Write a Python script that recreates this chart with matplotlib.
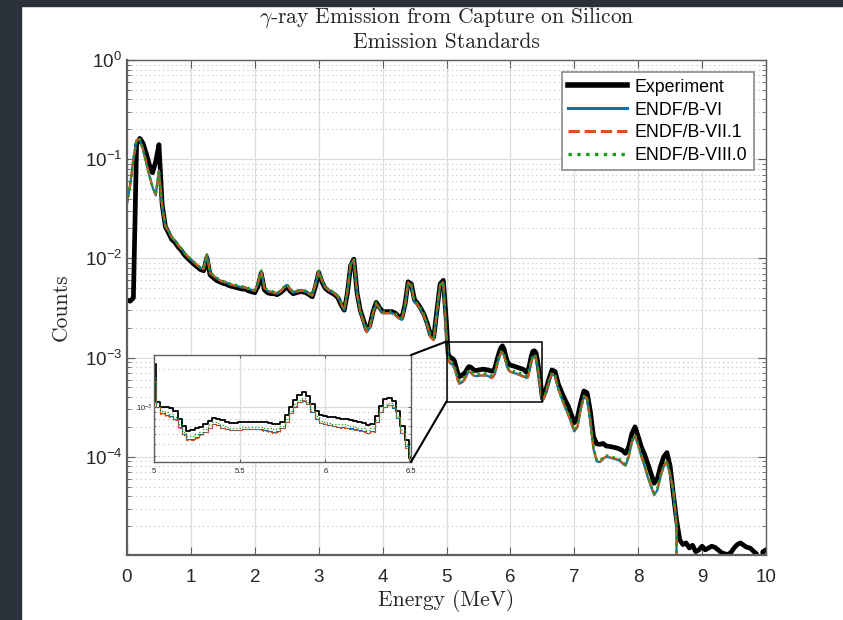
import numpy as np
import matplotlib
matplotlib.use("Agg")
import matplotlib.pyplot as plt
from matplotlib.patches import Rectangle, ConnectionPatch
from matplotlib.ticker import NullFormatter, LogLocator

plt.rcParams['font.family'] = ['Liberation Sans', 'DejaVu Sans']
plt.rcParams['mathtext.fontset'] = 'cm'

# bin centres (MeV): 50 keV bins, 25 keV bins across the 5-6.5 MeV window
energy = np.round(np.concatenate([np.arange(100) * 0.05,
                                  5.0 + np.arange(60) * 0.025,
                                  6.5 + np.arange(71) * 0.05]), 4)

experiment = [
    # 0.00 - 4.95
    3.8e-3, 3.7e-3, 4.0e-3, 0.14, 0.162, 0.145, 0.115, 0.088, 0.073, 0.095,
    0.14, 0.035, 0.021, 0.018, 0.0155, 0.0145, 0.013, 0.012, 0.0108, 0.0100,
    0.0093, 0.0087, 0.0082, 0.0077, 0.0075, 0.0102, 0.0068, 0.0064, 0.0060, 0.0058,
    0.0056, 0.0055, 0.0053, 0.0052, 0.0051, 0.0050, 0.0049, 0.0049, 0.0047, 0.0046,
    0.0045, 0.0052, 0.0071, 0.0048, 0.0045, 0.0044, 0.0044, 0.0043, 0.0045, 0.0048,
    0.0052, 0.0047, 0.0044, 0.0045, 0.0046, 0.0046, 0.0045, 0.0043, 0.0041, 0.0052,
    0.0072, 0.0058, 0.0050, 0.0047, 0.0045, 0.0043, 0.0040, 0.0034, 0.0030, 0.0045,
    0.0085, 0.0098, 0.0045, 0.0030, 0.0024, 0.0019, 0.0021, 0.0029, 0.0036, 0.0032,
    0.0029, 0.0029, 0.0029, 0.0029, 0.0028, 0.0026, 0.0025, 0.0034, 0.0058, 0.0055,
    0.0038, 0.0035, 0.0031, 0.0027, 0.0022, 0.0017, 0.0016, 0.0030, 0.0055, 0.0060,
    # 5.000 - 6.475
    2.2e-3, 1.1e-3, 1.0e-3, 9.9e-4, 9.7e-4, 9.2e-4, 8.0e-4, 7.0e-4, 6.4e-4, 6.5e-4,
    6.7e-4, 6.9e-4, 7.2e-4, 7.7e-4, 8.1e-4, 8.0e-4, 7.8e-4, 7.5e-4, 7.4e-4, 7.4e-4,
    7.5e-4, 7.5e-4, 7.6e-4, 7.6e-4, 7.6e-4, 7.5e-4, 7.5e-4, 7.4e-4, 7.3e-4, 7.3e-4,
    7.6e-4, 8.6e-4, 1.0e-3, 1.13e-3, 1.25e-3, 1.31e-3, 1.22e-3, 1.05e-3, 9.2e-4, 8.6e-4,
    8.4e-4, 8.3e-4, 8.2e-4, 8.1e-4, 8.0e-4, 7.9e-4, 7.8e-4, 7.7e-4, 7.6e-4, 7.4e-4,
    7.1e-4, 7.3e-4, 8.5e-4, 1.02e-3, 1.15e-3, 1.17e-3, 1.12e-3, 9.2e-4, 7.0e-4, 5.4e-4,
    # 6.50 - 10.00
    3.9e-4, 4.6e-4, 6.0e-4, 7.5e-4, 7.2e-4, 5.4e-4, 4.5e-4, 3.8e-4, 3.3e-4, 2.7e-4,
    2.2e-4, 2.5e-4, 3.5e-4, 4.6e-4, 4.4e-4, 2.9e-4, 1.6e-4, 1.35e-4, 1.33e-4, 1.36e-4,
    1.28e-4, 1.27e-4, 1.25e-4, 1.23e-4, 1.2e-4, 1.16e-4, 1.08e-4, 1.25e-4, 1.7e-4, 2.0e-4,
    1.6e-4, 1.25e-4, 1.05e-4, 8.5e-5, 6.8e-5, 5.4e-5, 6.0e-5, 8.0e-5, 1.0e-4, 1.1e-4,
    8.0e-5, 4.2e-5, 2.3e-5, 1.45e-5, 1.3e-5, 1.35e-5, 1.2e-5, 1.28e-5, 1.1e-5, 1.15e-5,
    1.25e-5, 1.15e-5, 1.2e-5, 1.25e-5, 1.22e-5, 1.15e-5, 1.08e-5, 1.05e-5, 1.03e-5, 1.08e-5,
    1.2e-5, 1.3e-5, 1.35e-5, 1.28e-5, 1.22e-5, 1.2e-5, 1.12e-5, 1.05e-5, 0.0, 1.1e-5,
    1.15e-5,
]

endf_vi = [
    # 0.00 - 4.95
    0.036, 0.055, 0.100, 0.155, 0.158, 0.125, 0.092, 0.068, 0.052, 0.043,
    0.077, 0.033, 0.021, 0.0188, 0.0162, 0.0151, 0.0136, 0.0125, 0.0113, 0.0104,
    0.0097, 0.0091, 0.0085, 0.0080, 0.0078, 0.0108, 0.0071, 0.0067, 0.0063, 0.0060,
    0.0058, 0.0057, 0.0055, 0.0054, 0.0053, 0.0052, 0.0051, 0.0051, 0.0049, 0.0048,
    0.0047, 0.0055, 0.0074, 0.0050, 0.0047, 0.0046, 0.0045, 0.0044, 0.0046, 0.0050,
    0.0054, 0.0049, 0.0045, 0.0046, 0.0047, 0.0047, 0.0046, 0.0044, 0.0042, 0.0054,
    0.0074, 0.0060, 0.0051, 0.0048, 0.0046, 0.0044, 0.0041, 0.0035, 0.0030, 0.0046,
    0.0087, 0.0096, 0.0044, 0.0029, 0.0023, 0.0018, 0.0020, 0.0028, 0.0035, 0.0031,
    0.0028, 0.0028, 0.0028, 0.0028, 0.0027, 0.0025, 0.0024, 0.0033, 0.0056, 0.0053,
    0.0036, 0.0034, 0.0030, 0.0026, 0.0021, 0.0016, 0.0015, 0.0029, 0.0053, 0.0057,
    # 5.000 - 6.475
    1.6e-3, 1.0e-3, 8.9e-4, 8.6e-4, 8.4e-4, 7.9e-4, 6.9e-4, 6.0e-4, 5.5e-4, 5.5e-4,
    5.7e-4, 6.0e-4, 6.3e-4, 6.8e-4, 7.2e-4, 7.1e-4, 6.8e-4, 6.6e-4, 6.5e-4, 6.5e-4,
    6.5e-4, 6.6e-4, 6.6e-4, 6.6e-4, 6.6e-4, 6.6e-4, 6.5e-4, 6.4e-4, 6.3e-4, 6.4e-4,
    6.7e-4, 7.6e-4, 8.9e-4, 1.0e-3, 1.09e-3, 1.12e-3, 1.05e-3, 9.1e-4, 8.0e-4, 7.4e-4,
    7.2e-4, 7.1e-4, 7.0e-4, 6.9e-4, 6.9e-4, 6.8e-4, 6.7e-4, 6.6e-4, 6.5e-4, 6.4e-4,
    6.2e-4, 6.4e-4, 7.5e-4, 9.0e-4, 1.0e-3, 1.03e-3, 9.8e-4, 8.1e-4, 6.2e-4, 4.8e-4,
    # 6.50 - 10.00
    3.6e-4, 4.3e-4, 5.6e-4, 6.8e-4, 6.5e-4, 4.8e-4, 3.9e-4, 3.2e-4, 2.7e-4, 2.2e-4,
    1.8e-4, 2.0e-4, 3.0e-4, 4.0e-4, 3.8e-4, 2.3e-4, 1.2e-4, 9.0e-5, 8.8e-5, 9.5e-5,
    1.0e-4, 9.8e-5, 9.6e-5, 9.4e-5, 9.2e-5, 8.6e-5, 8.1e-5, 9.8e-5, 1.4e-4, 1.62e-4,
    1.3e-4, 1.0e-4, 8.0e-5, 6.2e-5, 5.0e-5, 4.1e-5, 4.6e-5, 6.3e-5, 8.0e-5, 8.7e-5,
    6.5e-5, 4.4e-5, 2.0e-5, 0, 0, 0, 0, 0, 0, 0,
    0, 0, 0, 0, 0, 0, 0, 0, 0, 0,
    0, 0, 0, 0, 0, 0, 0, 0, 0, 0,
    0,
]

endf_vii1 = [
    # 0.00 - 4.95
    0.037, 0.056, 0.100, 0.156, 0.158, 0.126, 0.093, 0.069, 0.052, 0.044,
    0.076, 0.034, 0.021, 0.0188, 0.0163, 0.0151, 0.0136, 0.0125, 0.0113, 0.0104,
    0.0097, 0.0091, 0.0085, 0.0080, 0.0078, 0.0110, 0.0071, 0.0067, 0.0063, 0.0060,
    0.0058, 0.0057, 0.0055, 0.0054, 0.0053, 0.0052, 0.0051, 0.0051, 0.0049, 0.0048,
    0.0047, 0.0056, 0.0075, 0.0050, 0.0047, 0.0046, 0.0045, 0.0044, 0.0046, 0.0050,
    0.0054, 0.0049, 0.0045, 0.0046, 0.0047, 0.0047, 0.0046, 0.0044, 0.0042, 0.0055,
    0.0075, 0.0060, 0.0051, 0.0048, 0.0046, 0.0044, 0.0041, 0.0035, 0.0030, 0.0046,
    0.0088, 0.0097, 0.0044, 0.0029, 0.0023, 0.0018, 0.0020, 0.0028, 0.0035, 0.0031,
    0.0028, 0.0028, 0.0028, 0.0028, 0.0027, 0.0025, 0.0024, 0.0033, 0.0057, 0.0053,
    0.0036, 0.0034, 0.0030, 0.0026, 0.0021, 0.0016, 0.0015, 0.0029, 0.0054, 0.0058,
    # 5.000 - 6.475
    1.6e-3, 1.0e-3, 8.8e-4, 8.5e-4, 8.3e-4, 7.8e-4, 6.8e-4, 5.9e-4, 5.4e-4, 5.4e-4,
    5.6e-4, 5.9e-4, 6.3e-4, 6.8e-4, 7.2e-4, 7.1e-4, 6.8e-4, 6.6e-4, 6.5e-4, 6.5e-4,
    6.5e-4, 6.6e-4, 6.6e-4, 6.6e-4, 6.6e-4, 6.5e-4, 6.4e-4, 6.3e-4, 6.2e-4, 6.3e-4,
    6.7e-4, 7.6e-4, 8.9e-4, 1.01e-3, 1.1e-3, 1.13e-3, 1.06e-3, 9.2e-4, 8.1e-4, 7.4e-4,
    7.2e-4, 7.1e-4, 7.0e-4, 6.9e-4, 6.8e-4, 6.7e-4, 6.6e-4, 6.5e-4, 6.4e-4, 6.3e-4,
    6.1e-4, 6.3e-4, 7.5e-4, 9.0e-4, 1.0e-3, 1.04e-3, 9.9e-4, 8.2e-4, 6.2e-4, 4.7e-4,
    # 6.50 - 10.00
    3.6e-4, 4.3e-4, 5.7e-4, 6.9e-4, 6.6e-4, 4.8e-4, 3.9e-4, 3.2e-4, 2.7e-4, 2.2e-4,
    1.8e-4, 2.0e-4, 3.0e-4, 4.1e-4, 3.9e-4, 2.3e-4, 1.2e-4, 9.1e-5, 8.9e-5, 9.6e-5,
    1.0e-4, 9.9e-5, 9.7e-5, 9.5e-5, 9.3e-5, 8.7e-5, 8.2e-5, 9.9e-5, 1.4e-4, 1.64e-4,
    1.3e-4, 1.0e-4, 8.1e-5, 6.3e-5, 5.1e-5, 4.2e-5, 4.7e-5, 6.4e-5, 8.1e-5, 8.8e-5,
    6.6e-5, 4.5e-5, 2.1e-5, 0, 0, 0, 0, 0, 0, 0,
    0, 0, 0, 0, 0, 0, 0, 0, 0, 0,
    0, 0, 0, 0, 0, 0, 0, 0, 0, 0,
    0,
]

endf_viii0 = [
    # 0.00 - 4.95
    0.036, 0.055, 0.101, 0.156, 0.159, 0.126, 0.093, 0.069, 0.053, 0.044,
    0.078, 0.034, 0.022, 0.0190, 0.0164, 0.0152, 0.0137, 0.0126, 0.0114, 0.0105,
    0.0098, 0.0092, 0.0086, 0.0081, 0.0079, 0.0109, 0.0072, 0.0068, 0.0064, 0.0061,
    0.0059, 0.0058, 0.0056, 0.0055, 0.0054, 0.0053, 0.0052, 0.0052, 0.0050, 0.0049,
    0.0048, 0.0056, 0.0075, 0.0051, 0.0048, 0.0047, 0.0046, 0.0045, 0.0047, 0.0051,
    0.0055, 0.0050, 0.0046, 0.0047, 0.0048, 0.0048, 0.0047, 0.0045, 0.0043, 0.0055,
    0.0075, 0.0061, 0.0052, 0.0049, 0.0047, 0.0045, 0.0042, 0.0036, 0.0031, 0.0047,
    0.0088, 0.0097, 0.0045, 0.0030, 0.0024, 0.0019, 0.0021, 0.0029, 0.0036, 0.0032,
    0.0029, 0.0029, 0.0029, 0.0029, 0.0028, 0.0026, 0.0025, 0.0034, 0.0057, 0.0054,
    0.0037, 0.0035, 0.0031, 0.0027, 0.0022, 0.0017, 0.0016, 0.0030, 0.0054, 0.0058,
    # 5.000 - 6.475
    1.7e-3, 1.05e-3, 9.3e-4, 9.0e-4, 8.8e-4, 8.3e-4, 7.2e-4, 6.3e-4, 5.8e-4, 5.8e-4,
    6.0e-4, 6.3e-4, 6.6e-4, 7.1e-4, 7.5e-4, 7.4e-4, 7.1e-4, 6.9e-4, 6.8e-4, 6.8e-4,
    6.8e-4, 6.9e-4, 6.9e-4, 6.9e-4, 6.9e-4, 6.9e-4, 6.8e-4, 6.7e-4, 6.6e-4, 6.7e-4,
    7.0e-4, 7.9e-4, 9.3e-4, 1.05e-3, 1.14e-3, 1.17e-3, 1.1e-3, 9.5e-4, 8.4e-4, 7.7e-4,
    7.5e-4, 7.4e-4, 7.3e-4, 7.2e-4, 7.2e-4, 7.1e-4, 7.0e-4, 6.9e-4, 6.8e-4, 6.7e-4,
    6.5e-4, 6.7e-4, 7.8e-4, 9.4e-4, 1.05e-3, 1.08e-3, 1.03e-3, 8.5e-4, 6.5e-4, 5.0e-4,
    # 6.50 - 10.00
    3.7e-4, 4.4e-4, 5.8e-4, 7.0e-4, 6.7e-4, 4.9e-4, 4.0e-4, 3.3e-4, 2.8e-4, 2.3e-4,
    1.85e-4, 2.05e-4, 3.1e-4, 4.1e-4, 3.9e-4, 2.4e-4, 1.25e-4, 9.3e-5, 9.1e-5, 9.8e-5,
    1.03e-4, 1.01e-4, 9.9e-5, 9.7e-5, 9.5e-5, 8.9e-5, 8.4e-5, 1.01e-4, 1.44e-4, 1.66e-4,
    1.33e-4, 1.03e-4, 8.3e-5, 6.4e-5, 5.2e-5, 4.3e-5, 4.8e-5, 6.5e-5, 8.2e-5, 9.0e-5,
    6.7e-5, 4.6e-5, 2.1e-5, 0, 0, 0, 0, 0, 0, 0,
    0, 0, 0, 0, 0, 0, 0, 0, 0, 0,
    0, 0, 0, 0, 0, 0, 0, 0, 0, 0,
    0,
]

series_labels = ['Experiment', 'ENDF/B-VI', 'ENDF/B-VII.1', 'ENDF/B-VIII.0']
series_colors = ['black', '#0072BD', '#D95319', '#1a9a1a']
series_styles = ['-', '-', '--', ':']
main_widths = [3.4, 1.6, 1.6, 1.8]
inset_widths = [1.3, 0.8, 0.8, 0.9]
all_series = [experiment, endf_vi, endf_vii1, endf_viii0]

zoom_x = (5.0, 6.5)
zoom_y_box = (3.6e-4, 1.45e-3)
zoom_y_inset = (3.6e-4, 2.6e-3)

axis_gray = '#5f5f5f'
text_gray = '#262626'


def style_axes(ax, labelsize, major_len, minor_len):
    ax.set_yscale('log')
    for sp in ax.spines.values():
        sp.set_color(axis_gray)
        sp.set_linewidth(1.0)
    ax.tick_params(which='both', direction='in', top=True, right=True,
                   color=axis_gray, labelcolor=text_gray, labelsize=labelsize)
    ax.tick_params(which='major', length=major_len)
    ax.tick_params(which='minor', length=minor_len)
    ax.yaxis.set_minor_locator(LogLocator(base=10, subs=np.arange(2, 10), numticks=20))
    ax.grid(which='major', color='#dcdcdc', linestyle='-', linewidth=0.9)
    ax.grid(which='minor', axis='y', color='#c0c0c0', linestyle=(0, (1, 3)), linewidth=0.8)
    ax.set_axisbelow(True)


fig = plt.figure(figsize=(8.43, 6.2), dpi=100)

# dark page strips around the white figure area
fig.patches.append(Rectangle((0, 0), 21 / 843, 1, transform=fig.transFigure,
                             color='#2b313a', zorder=-5))
fig.patches.append(Rectangle((0, 1 - 6 / 620), 1, 6 / 620, transform=fig.transFigure,
                             color='#2b313a', zorder=-5))

ax = fig.add_axes([127 / 843, 1 - 555 / 620, 639 / 843, 495 / 620])
style_axes(ax, 13.5, 6, 3)
for vals, lab, col, ls, lw in zip(all_series, series_labels, series_colors,
                                  series_styles, main_widths):
    ax.plot(energy, vals, color=col, linestyle=ls, linewidth=lw, label=lab)
ax.set_xlim(0, 10)
ax.set_ylim(1.02e-5, 1)
ax.set_xticks(range(0, 11))
ax.yaxis.set_minor_formatter(NullFormatter())
ax.spines['bottom'].set_linewidth(1.6)
ax.spines['left'].set_linewidth(1.6)
ax.tick_params(axis='x', pad=10)

ax.set_xlabel('Energy (MeV)', fontfamily='cmr10', fontsize=15.5, color=text_gray, labelpad=2)
ax.set_ylabel('Counts', fontfamily='cmr10', fontsize=15.5, color=text_gray, labelpad=10)
ax.set_title('$\\gamma$-ray Emission from Capture on Silicon\nEmission Standards',
             fontfamily='cmr10', fontsize=15.5, color=text_gray, pad=9, linespacing=1.15)

leg = ax.legend(loc='upper right', fontsize=12.8, handlelength=3.3, labelspacing=0.33,
                borderaxespad=0.7, fancybox=False, framealpha=1, edgecolor='#8a8a8a',
                handletextpad=0.45, borderpad=0.35)
leg.get_frame().set_linewidth(1.2)
for h in leg.get_lines():
    h.set_linewidth(h.get_linewidth() + 0.6)

# zoom window on the main axes
ax.add_patch(Rectangle((zoom_x[0], zoom_y_box[0]), zoom_x[1] - zoom_x[0],
                       zoom_y_box[1] - zoom_y_box[0], fill=False,
                       edgecolor='black', linewidth=1.1, zorder=6))

axin = fig.add_axes([154 / 843, 1 - 462 / 620, 257 / 843, 107 / 620])
style_axes(axin, 5.5, 2.5, 1.5)
for vals, col, ls, lw in zip(all_series, series_colors, series_styles, inset_widths):
    axin.plot(energy, vals, color=col, linestyle=ls, linewidth=lw, drawstyle='steps-mid')
axin.set_xlim(*zoom_x)
axin.set_ylim(*zoom_y_inset)
axin.set_xticks([5, 5.5, 6, 6.5])
axin.set_xticklabels(['5', '5.5', '6', '6.5'])
axin.set_yticks([1e-3])
axin.yaxis.set_minor_formatter(NullFormatter())
axin.tick_params(axis='x', pad=4)
axin.tick_params(axis='y', pad=1)

for ya, yb in [(zoom_y_box[1], 1), (zoom_y_box[0], 0)]:
    con = ConnectionPatch(xyA=(zoom_x[0], ya), coordsA=ax.transData,
                          xyB=(1, yb), coordsB=axin.transAxes,
                          color='black', linewidth=1.5)
    fig.add_artist(con)

fig.savefig('out.png', dpi=100, facecolor='white')
